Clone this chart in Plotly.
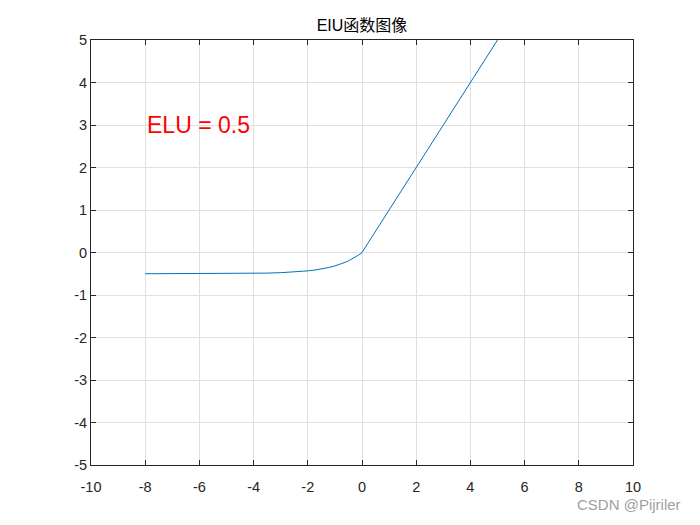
import plotly.graph_objects as go

# ELU curve, alpha = 0.5
x_vals = [-8, -7, -6, -5, -4, -3.5, -3, -2.75, -2.5, -2.25, -2, -1.75, -1.5, -1.25, -1,
          -0.875, -0.75, -0.625, -0.5, -0.375, -0.25, -0.125, 0, 1, 2, 3, 4, 5]
y_vals = [-0.4998, -0.4995, -0.4988, -0.4966, -0.4908, -0.4849, -0.4751, -0.468, -0.459,
          -0.4471, -0.4323, -0.4131, -0.3884, -0.3567, -0.3161, -0.2916, -0.2638, -0.2323,
          -0.1967, -0.1563, -0.1106, -0.0588, 0, 1, 2, 3, 4, 5]

x_ticks = [-10, -8, -6, -4, -2, 0, 2, 4, 6, 8, 10]
x_labels = ['-10', '-8', '-6', '-4', '-2', '0', '2', '4', '6', '8', '10']
y_ticks = [-5, -4, -3, -2, -1, 0, 1, 2, 3, 4, 5]
y_labels = ['-5', '-4', '-3', '-2', '-1', '0', '1', '2', '3', '4', '5']

axis_style = dict(
    showgrid=True, gridcolor='#dfdfdf', gridwidth=1,
    showline=True, linecolor='#262626', linewidth=1, mirror='ticks',
    ticks='inside', ticklen=5, tickcolor='#262626',
    zeroline=False, automargin=False,
    tickfont=dict(family='Arial, Liberation Sans', size=14.5, color='#262626'),
)

fig = go.Figure()
fig.add_trace(go.Scatter(
    x=x_vals, y=y_vals, mode='lines',
    line=dict(color='#0072BD', width=1),
    showlegend=False,
))

fig.add_annotation(
    x=-8, y=3, text='ELU = 0.5', showarrow=False,
    xanchor='left', yanchor='middle',
    font=dict(family='Arial, Liberation Sans', size=23, color='red'),
)

fig.add_annotation(
    x=1.092, y=-0.094, xref='paper', yref='paper', xanchor='right', yanchor='middle',
    text='CSDN @Pijriler', showarrow=False,
    font=dict(family='Arial, Liberation Sans', size=15, color='#a0a0a0'),
)

# page body has an 8px margin, so the figure is a bit smaller than the window
fig.update_layout(
    width=692, height=517,
    margin=dict(l=83, r=67, t=32, b=60),
    paper_bgcolor='white', plot_bgcolor='white',
    title=dict(text='EIU函数图像', x=0.5, xref='paper', y=1, yref='paper',
               yanchor='bottom', pad=dict(b=9),
               font=dict(family='Arial, Noto Sans CJK SC', size=16, color='black')),
    xaxis=dict(range=[-10, 10], tickvals=x_ticks, ticktext=x_labels,
               ticklabelstandoff=9, **axis_style),
    yaxis=dict(range=[-5, 5], tickvals=y_ticks, ticktext=y_labels, **axis_style),
)

fig.write_html("out.html")
